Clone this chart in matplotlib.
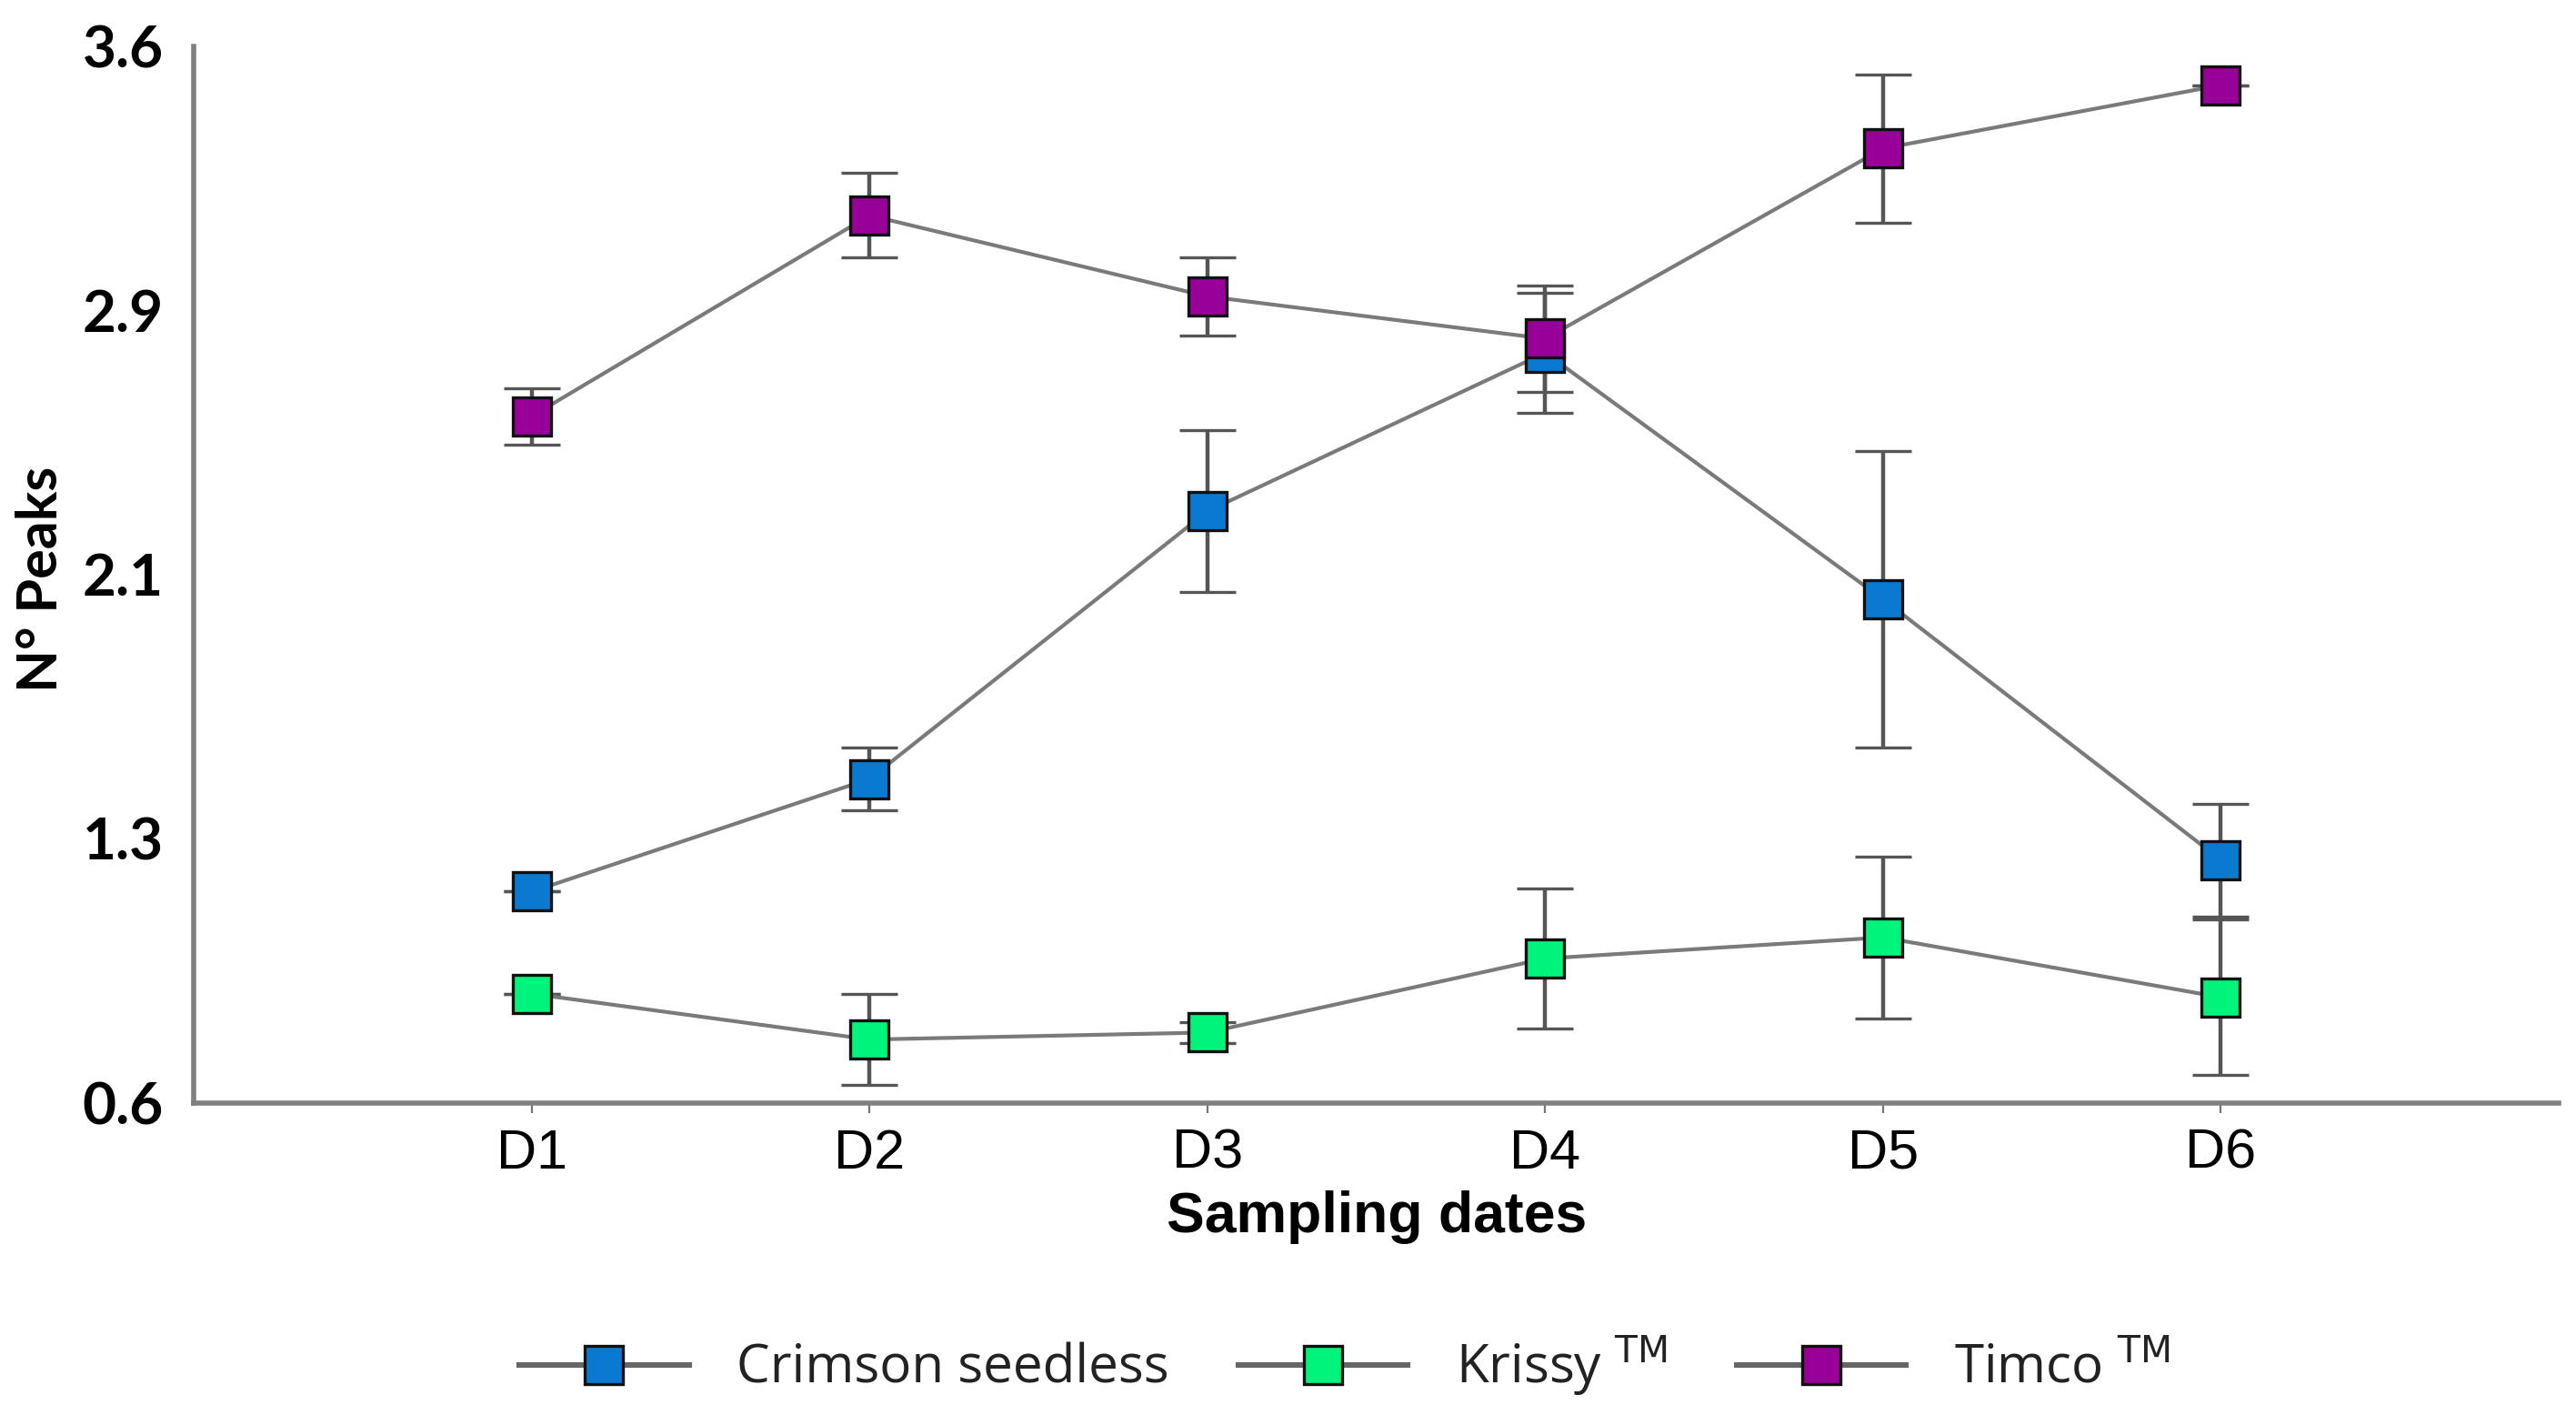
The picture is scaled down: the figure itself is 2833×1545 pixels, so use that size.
import matplotlib.pyplot as plt
from matplotlib.lines import Line2D
import numpy as np

# data
dates = ["D1", "D2", "D3", "D4", "D5", "D6"]
crimson = [1.20, 1.52, 2.28, 2.73, 2.03, 1.29]
crimson_err = [0.0, 0.09, 0.23, 0.17, 0.42, 0.16]
krissy = [0.91, 0.78, 0.80, 1.01, 1.07, 0.90]
krissy_err = [0.0, 0.13, 0.03, 0.20, 0.23, 0.22]
timco = [2.55, 3.12, 2.89, 2.77, 3.31, 3.49]
timco_err = [0.08, 0.12, 0.11, 0.15, 0.21, 0.0]
ytick_vals = [0.6, 1.35, 2.1, 2.85, 3.6]
ytick_labels = ["0.6", "1.3", "2.1", "2.9", "3.6"]

series = [
    ("Crimson seedless", crimson, crimson_err, "#0a7ad0"),
    ("Krissy $^{\\mathrm{TM}}$", krissy, krissy_err, "#00f47c"),
    ("Timco $^{\\mathrm{TM}}$", timco, timco_err, "#990099"),
]

fig = plt.figure(figsize=(14.165, 7.725), dpi=200)
ax = fig.add_axes([0.0753, 0.215, 0.918, 0.752])

x = np.arange(1, len(dates) + 1)
handles = []
for name, vals, err, col in series:
    ax.errorbar(x, vals, yerr=err, color="#7a7a7a", lw=1.5, ecolor="#555555",
                elinewidth=1.6, capsize=11, capthick=1.6, marker="s", markersize=15,
                markerfacecolor=col, markeredgecolor="#111111", markeredgewidth=1.2,
                zorder=3)
    handles.append(Line2D([], [], color="#666666", lw=2.2, marker="s", markersize=15,
                          markerfacecolor=col, markeredgecolor="#111111",
                          markeredgewidth=1.2, label=name))

ax.set_xlim(0, 7)
ax.set_ylim(0.6, 3.6)
ax.set_xticks(x)
ax.set_xticklabels(dates, fontsize=22, family="Liberation Sans")
ax.set_yticks(ytick_vals)
ax.set_yticklabels(ytick_labels, fontsize=23, fontweight="bold", family="Lato")
ax.tick_params(axis="y", length=0, pad=12)
ax.tick_params(axis="x", length=4, color="#777777", pad=6)

for s in ["top", "right"]:
    ax.spines[s].set_visible(False)
for s in ["left", "bottom"]:
    ax.spines[s].set_color("#808080")
    ax.spines[s].set_linewidth(2)

ax.set_xlabel("Sampling dates", fontsize=22.5, fontweight="bold", family="Liberation Sans", labelpad=4)
fig.text(0.016, 0.588, "N° Peaks", rotation=90, ha="center", va="center",
         fontsize=22, fontweight="bold", family="Lato")

fig.legend(handles=handles, loc="center", bbox_to_anchor=(0.522, 0.028), ncol=3, frameon=False,
           handlelength=3.2, handletextpad=0.9, columnspacing=1.3,
           prop={"family": "Open Sans", "size": 21}, labelcolor="#222222")

fig.savefig("out.png", dpi=200, facecolor="white")
